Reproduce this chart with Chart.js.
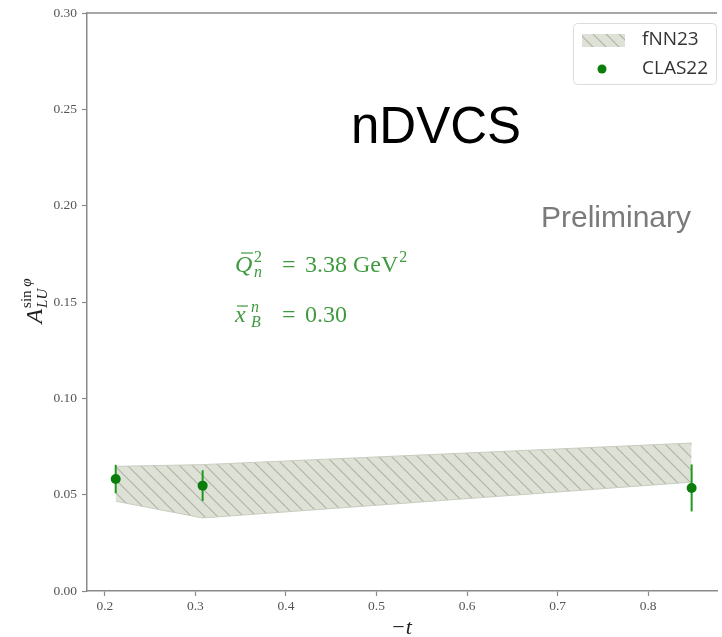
<!DOCTYPE html>
<html>
<head>
<meta charset="utf-8">
<script src="https://cdn.jsdelivr.net/npm/chart.js@4.4.1/dist/chart.umd.min.js"></script>
<style>
  html, body { margin: 0; padding: 0; background: #fff; overflow: hidden; }
  #wrap { width: 722px; height: 637px; position: relative; }
</style>
</head>
<body>
<div id="wrap"><canvas id="chart" width="722" height="637"></canvas></div>
<script>
// -t values of the three kinematic bins
const tValues = [0.212, 0.308, 0.848];
// CLAS22 beam-spin asymmetry and its uncertainty
const clasValues = [0.0581, 0.0547, 0.0535];
const clasErrors = [0.0074, 0.0080, 0.0122];
// fNN23 prediction band (upper / lower edge)
const bandUpper = [0.0647, 0.0656, 0.0768];
const bandLower = [0.0466, 0.0379, 0.0565];
// axis ticks
const xTicks = [0.2, 0.3, 0.4, 0.5, 0.6, 0.7, 0.8];
const yTicks = [0.00, 0.05, 0.10, 0.15, 0.20, 0.25, 0.30];

const AXIS = '#8a8a8a';
const TICKTXT = '#555';
const GREEN = '#0b7d0b';
const BAR_GREEN = '#1f9a1f';
const NOTE_GREEN = '#3f9a3f';
const SERIF = '"Liberation Serif", "Times New Roman", serif';
const SANS = '"Liberation Sans", Arial, sans-serif';

// hatched fill for the prediction band
function makeHatch() {
  const s = 13;
  const c = document.createElement('canvas');
  c.width = s; c.height = s;
  const g = c.getContext('2d');
  g.fillStyle = '#dee1d5';
  g.fillRect(0, 0, s, s);
  g.strokeStyle = '#aeb2a4';
  g.lineWidth = 1.1;
  for (const k of [-s, 0, s]) {
    g.beginPath();
    g.moveTo(k, 0);
    g.lineTo(k + s, s);
    g.stroke();
  }
  return g.createPattern(c, 'repeat');
}
const hatch = makeHatch();

const pts = (xs, ys) => xs.map((x, i) => ({ x: x, y: ys[i] }));

// error bars, drawn just before the CLAS22 markers
const errorBars = {
  id: 'errorBars',
  beforeDatasetDraw(chart, args) {
    if (args.index !== 2) return;
    const { ctx, scales: { x, y } } = chart;
    ctx.save();
    ctx.strokeStyle = BAR_GREEN;
    ctx.lineWidth = 2;
    tValues.forEach((t, i) => {
      const px = x.getPixelForValue(t);
      ctx.beginPath();
      ctx.moveTo(px, y.getPixelForValue(clasValues[i] - clasErrors[i]));
      ctx.lineTo(px, y.getPixelForValue(clasValues[i] + clasErrors[i]));
      ctx.stroke();
    });
    ctx.restore();
  }
};

function script(ctx, text, x, y, size, italic) {
  ctx.font = (italic ? 'italic ' : '') + size + 'px ' + SERIF;
  ctx.fillText(text, x, y);
  return ctx.measureText(text).width;
}

// frame, axis titles, labels and legend
const decorations = {
  id: 'decorations',
  afterDraw(chart) {
    const { ctx, chartArea: a } = chart;
    ctx.save();
    // top spine
    ctx.strokeStyle = AXIS;
    ctx.lineWidth = 1.5;
    ctx.beginPath();
    ctx.moveTo(a.left, a.top);
    ctx.lineTo(a.right, a.top);
    ctx.stroke();

    // x-axis title  −t
    ctx.fillStyle = '#222';
    ctx.textBaseline = 'alphabetic';
    ctx.textAlign = 'left';
    ctx.font = '22px ' + SERIF;
    const mw = ctx.measureText('\u2212').width;
    ctx.font = 'italic 22px ' + SERIF;
    const tw = ctx.measureText('t').width;
    const cx = (a.left + a.right) / 2;
    const x0 = cx - (mw + tw + 1) / 2;
    ctx.font = '22px ' + SERIF;
    ctx.fillText('\u2212', x0, 634);
    ctx.font = 'italic 22px ' + SERIF;
    ctx.fillText('t', x0 + mw + 1, 634);

    // y-axis title  A_LU^{sin φ}
    ctx.save();
    ctx.translate(34, 301);
    ctx.rotate(-Math.PI / 2);
    ctx.fillStyle = '#222';
    const wa = (ctx.font = 'italic 24px ' + SERIF, ctx.measureText('A').width);
    ctx.font = '15px ' + SERIF;
    const wsin = ctx.measureText('sin ').width;
    ctx.font = 'italic 15px ' + SERIF;
    const wphi = ctx.measureText('\u03c6').width;
    const total = wa + 1 + wsin + wphi;
    let px = -total / 2;
    const base = 8;
    script(ctx, 'A', px, base, 24, true);
    px += wa + 1;
    script(ctx, 'LU', px, base + 5, 15, true);
    const s1 = script(ctx, 'sin ', px, base - 11, 15, false);
    script(ctx, '\u03c6', px + s1, base - 11, 15, true);
    ctx.restore();

    // big labels
    ctx.fillStyle = '#000';
    ctx.font = '51px ' + SANS;
    ctx.fillText('nDVCS', 351, 143);
    ctx.fillStyle = '#7a7a7a';
    ctx.font = '30px ' + SANS;
    ctx.fillText('Preliminary', 541, 227);

    // kinematics
    ctx.fillStyle = NOTE_GREEN;
    ctx.strokeStyle = NOTE_GREEN;
    ctx.lineWidth = 1.2;
    // line 1: Q̄²_n = 3.38 GeV²
    let b1 = 272;
    script(ctx, 'Q', 235, b1, 24, true);
    ctx.beginPath(); ctx.moveTo(241, 253); ctx.lineTo(253, 253); ctx.stroke();
    script(ctx, '2', 254, b1 - 10, 16, false);
    script(ctx, 'n', 254, b1 + 5, 16, true);
    script(ctx, '=', 282, b1, 24, false);
    const w338 = script(ctx, '3.38', 305, b1, 24, false);
    const wgev = script(ctx, 'GeV', 305 + w338 + 6, b1, 24, false);
    script(ctx, '2', 305 + w338 + 6 + wgev + 1, b1 - 10, 16, false);
    // line 2: x̄ⁿ_B = 0.30
    let b2 = 322;
    script(ctx, 'x', 235, b2, 24, true);
    ctx.beginPath(); ctx.moveTo(237, 306); ctx.lineTo(248, 306); ctx.stroke();
    script(ctx, 'n', 251, b2 - 10, 16, true);
    script(ctx, 'B', 251, b2 + 5, 16, true);
    script(ctx, '=', 282, b2, 24, false);
    script(ctx, '0.30', 305, b2, 24, false);

    // legend
    const ds = chart.data.datasets;
    ctx.fillStyle = 'rgba(255,255,255,0.85)';
    ctx.strokeStyle = '#dcdcdc';
    ctx.lineWidth = 1;
    ctx.beginPath();
    ctx.roundRect(573.5, 23.5, 143, 61, 4);
    ctx.fill();
    ctx.stroke();
    ctx.fillStyle = hatch;
    ctx.fillRect(582, 34, 43, 13);
    ctx.fillStyle = GREEN;
    ctx.beginPath();
    ctx.arc(602, 69, 4.5, 0, Math.PI * 2);
    ctx.fill();
    ctx.fillStyle = '#333';
    ctx.font = '19px "Open Sans", sans-serif';
    ctx.textBaseline = 'middle';
    ctx.fillText(ds[0].label, 642, 40);
    ctx.fillText(ds[2].label, 642, 69);
    ctx.restore();
  }
};

new Chart(document.getElementById('chart'), {
  type: 'line',
  data: {
    datasets: [
      {
        label: 'fNN23',
        data: pts(tValues, bandUpper),
        borderColor: '#c9cdc0',
        borderWidth: 1,
        pointRadius: 0,
        tension: 0,
        fill: '+1',
        backgroundColor: hatch,
        order: 2
      },
      {
        label: 'fNN23 lower',
        data: pts(tValues, bandLower),
        borderColor: '#c9cdc0',
        borderWidth: 1,
        pointRadius: 0,
        tension: 0,
        fill: false,
        order: 1
      },
      {
        label: 'CLAS22',
        data: pts(tValues, clasValues),
        showLine: false,
        pointRadius: 5,
        pointBackgroundColor: GREEN,
        pointBorderColor: GREEN,
        pointBorderWidth: 0,
        order: 0
      }
    ]
  },
  options: {
    responsive: false,
    animation: false,
    layout: { padding: { top: 12, left: 0, right: 0, bottom: 0 } },
    plugins: { legend: { display: false }, tooltip: { enabled: false } },
    scales: {
      x: {
        type: 'linear',
        min: 0.1803,
        max: 0.876,
        afterBuildTicks: s => { s.ticks = xTicks.map(v => ({ value: v })); },
        afterFit: s => { s.height = 46; },
        border: { display: true, color: AXIS, width: 1.5 },
        grid: { display: true, drawOnChartArea: false, drawTicks: true, tickLength: 5, tickColor: AXIS, tickWidth: 1.2 },
        ticks: {
          padding: 2,
          color: TICKTXT,
          font: { family: SERIF, size: 13.5 },
          maxRotation: 0,
          callback: v => v.toFixed(1)
        }
      },
      y: {
        type: 'linear',
        min: 0,
        max: 0.30,
        afterBuildTicks: s => { s.ticks = yTicks.map(v => ({ value: v })); },
        afterFit: s => { s.width = 87; },
        border: { display: true, color: AXIS, width: 1.5 },
        grid: { display: true, drawOnChartArea: false, drawTicks: true, tickLength: 5, tickColor: AXIS, tickWidth: 1.2 },
        ticks: {
          padding: 5,
          color: TICKTXT,
          font: { family: SERIF, size: 13.5 },
          callback: v => v.toFixed(2)
        }
      }
    }
  },
  plugins: [errorBars, decorations]
});
</script>
</body>
</html>
